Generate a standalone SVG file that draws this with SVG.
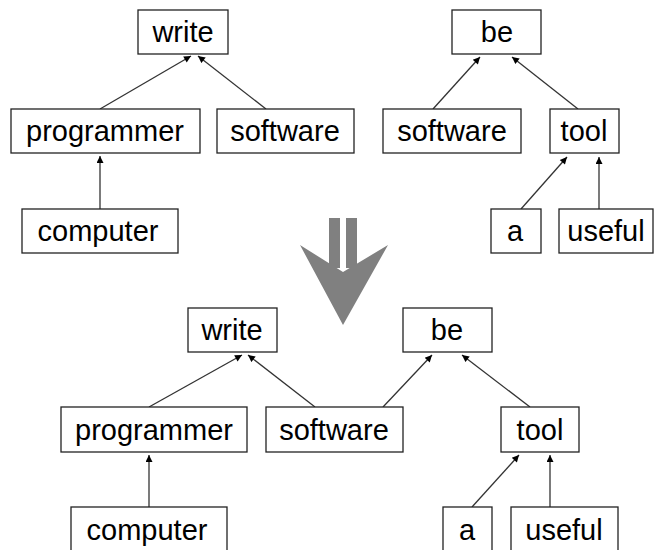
<svg xmlns="http://www.w3.org/2000/svg" width="657" height="550" viewBox="0 0 657 550">
<defs>
<marker id="ah" viewBox="0 0 10 10" refX="10" refY="5" markerWidth="9" markerHeight="7" markerUnits="userSpaceOnUse" orient="auto">
<path d="M0,0 L10,5 L0,10 z" fill="#000"/>
</marker>
<style>
.box{fill:#fff;stroke:#222;stroke-width:1.3}
.t{font-family:"Liberation Sans",Arial,sans-serif;font-size:29px;fill:#000;text-anchor:middle}
.c{stroke:#333;stroke-width:1.3;fill:none;marker-end:url(#ah)}
</style>
</defs>
<rect width="657" height="550" fill="#fff"/>
<g id="connectors">
<line class="c" x1="100" y1="109" x2="191" y2="56"/>
<line class="c" x1="266" y1="109" x2="198" y2="56"/>
<line class="c" x1="100" y1="209" x2="100" y2="156"/>
<line class="c" x1="433" y1="109" x2="480" y2="57"/>
<line class="c" x1="578" y1="109" x2="512" y2="57"/>
<line class="c" x1="521" y1="209" x2="567" y2="157"/>
<line class="c" x1="599" y1="209" x2="599" y2="157"/>
<line class="c" x1="149" y1="407" x2="242" y2="355"/>
<line class="c" x1="315" y1="407" x2="248" y2="355"/>
<line class="c" x1="149" y1="507" x2="149" y2="455"/>
<line class="c" x1="383" y1="407" x2="432" y2="355"/>
<line class="c" x1="530" y1="407" x2="462" y2="355"/>
<line class="c" x1="472" y1="507" x2="519" y2="455"/>
<line class="c" x1="550" y1="507" x2="550" y2="455"/>
</g>
<g id="big-arrow" fill="#808080">
<rect x="329" y="218" width="11" height="50"/>
<rect x="346" y="218" width="11" height="50"/>
<polygon points="300,245 343,272 388,245 343,325"/>
</g>
<g id="t-write"><rect class="box" x="138" y="10" width="90" height="44"/><text class="t" x="183" y="42">write</text></g>
<g id="t-programmer"><rect class="box" x="11" y="109" width="189" height="44"/><text class="t" x="105" y="141">programmer</text></g>
<g id="t-software1"><rect class="box" x="217" y="109" width="137" height="44"/><text class="t" x="285" y="141">software</text></g>
<g id="t-computer"><rect class="box" x="22" y="209" width="156" height="44"/><text class="t" x="98" y="241">computer</text></g>
<g id="t-be"><rect class="box" x="452" y="10" width="89" height="44"/><text class="t" x="497" y="42">be</text></g>
<g id="t-software2"><rect class="box" x="383" y="109" width="138" height="44"/><text class="t" x="452" y="141">software</text></g>
<g id="t-tool"><rect class="box" x="550" y="109" width="69" height="44"/><text class="t" x="584" y="141">tool</text></g>
<g id="t-a"><rect class="box" x="491" y="209" width="50" height="44"/><text class="t" x="515" y="241">a</text></g>
<g id="t-useful"><rect class="box" x="559" y="209" width="94" height="44"/><text class="t" x="606" y="241">useful</text></g>
<g id="b-write"><rect class="box" x="188" y="308" width="89" height="44"/><text class="t" x="232" y="340">write</text></g>
<g id="b-be"><rect class="box" x="403" y="308" width="89" height="44"/><text class="t" x="447" y="340">be</text></g>
<g id="b-programmer"><rect class="box" x="61" y="407" width="186" height="45"/><text class="t" x="154" y="440">programmer</text></g>
<g id="b-software"><rect class="box" x="266" y="407" width="137" height="45"/><text class="t" x="334" y="440">software</text></g>
<g id="b-tool"><rect class="box" x="501" y="407" width="78" height="45"/><text class="t" x="540" y="440">tool</text></g>
<g id="b-computer"><rect class="box" x="71" y="507" width="156" height="50"/><text class="t" x="147" y="540">computer</text></g>
<g id="b-a"><rect class="box" x="443" y="507" width="49" height="50"/><text class="t" x="467" y="540">a</text></g>
<g id="b-useful"><rect class="box" x="511" y="507" width="107" height="50"/><text class="t" x="564" y="540">useful</text></g>
</svg>
